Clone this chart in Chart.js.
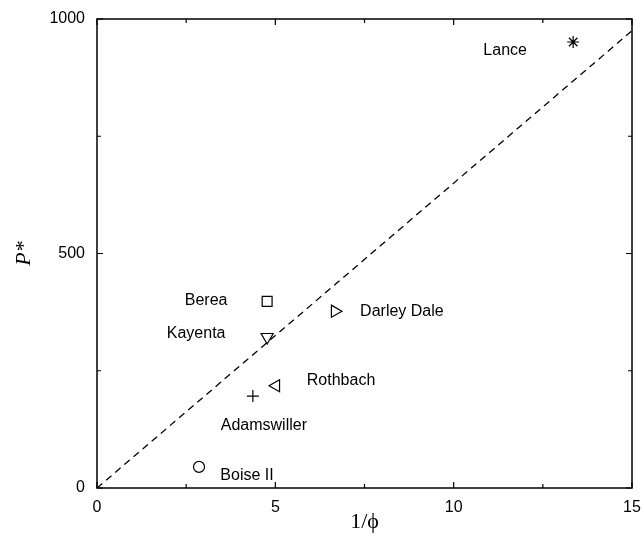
<!DOCTYPE html>
<html><head><meta charset="utf-8">
<script src="https://cdn.jsdelivr.net/npm/chart.js@4/dist/chart.umd.min.js"></script>
<style>html,body{margin:0;padding:0;background:#fff;} #wrap{width:644px;height:535px;position:relative;}</style>
</head><body><div id="wrap"><canvas id="c"></canvas></div>
<script>
const sampleNames = ['Lance','Berea','Darley Dale','Kayenta','Rothbach','Adamswiller','Boise II'];
const invPorosity = [13.35, 4.77, 6.67, 4.77, 5.02, 4.37, 2.86];
const pStar = [951, 398, 377, 322, 218, 196, 45];
const markerStyles = ['star','rect','triangle','triangle','triangle','cross','circle'];
const markerRotations = [0, 0, 90, 180, 270, 0, 0];
const fitX = [0, 15];
const fitY = [0, 975];
const xMajorTicks = [0, 5, 10, 15];
const yMajorTicks = [0, 500, 1000];
const xMinorTicks = [2.5, 7.5, 12.5];
const yMinorTicks = [250, 750];

// label placement (pixel offsets from each marker), by sample
const labelOffsets = {
  'Lance': [-68, 9], 'Berea': [-61, -1], 'Darley Dale': [67, 0], 'Kayenta': [-71, -3],
  'Rothbach': [65, -5], 'Adamswiller': [11, 30], 'Boise II': [48, 9]
};

const framePlugin = {
  id: 'frame',
  afterDatasetsDraw(chart) {
    const {ctx, chartArea: a, scales: {x, y}} = chart;
    ctx.save();
    ctx.strokeStyle = '#000';
    ctx.lineWidth = 1.5;
    ctx.strokeRect(a.left, a.top, a.right - a.left, a.bottom - a.top);
    ctx.lineWidth = 1.2;
    const tk = (v, len, isX) => {
      ctx.beginPath();
      if (isX) {
        const px = x.getPixelForValue(v);
        ctx.moveTo(px, a.bottom); ctx.lineTo(px, a.bottom - len);
        ctx.moveTo(px, a.top); ctx.lineTo(px, a.top + len);
      } else {
        const py = y.getPixelForValue(v);
        ctx.moveTo(a.left, py); ctx.lineTo(a.left + len, py);
        ctx.moveTo(a.right, py); ctx.lineTo(a.right - len, py);
      }
      ctx.stroke();
    };
    xMajorTicks.forEach(v => tk(v, 6, true));
    xMinorTicks.forEach(v => tk(v, 4, true));
    yMajorTicks.forEach(v => tk(v, 6, false));
    yMinorTicks.forEach(v => tk(v, 4, false));
    // sample labels
    ctx.fillStyle = '#000';
    ctx.font = '16px "Liberation Sans", Arial, sans-serif';
    ctx.textAlign = 'center';
    ctx.textBaseline = 'middle';
    sampleNames.forEach((n, i) => {
      const px = x.getPixelForValue(invPorosity[i]);
      const py = y.getPixelForValue(pStar[i]);
      const o = labelOffsets[n];
      ctx.fillText(n, px + o[0], py + o[1]);
    });
    ctx.restore();
  }
};

const chart = new Chart(document.getElementById('c'), {
  type: 'scatter',
  data: {
    datasets: [
      {
        label: 'samples',
        data: invPorosity.map((v, i) => ({x: v, y: pStar[i]})),
        pointStyle: markerStyles,
        rotation: markerRotations,
        pointRadius: [6, 7, 7, 7, 7, 6, 5.5],
        pointHoverRadius: [6, 7, 7, 7, 7, 6, 5.5],
        borderColor: '#000',
        backgroundColor: 'rgba(0,0,0,0)',
        pointBorderWidth: 1.2,
        order: 1
      },
      {
        type: 'line',
        label: 'fit',
        data: fitX.map((v, i) => ({x: v, y: fitY[i]})),
        borderColor: '#000',
        borderWidth: 1.3,
        borderDash: [7, 5],
        pointRadius: 0,
        fill: false,
        order: 2
      }
    ]
  },
  options: {
    responsive: true,
    maintainAspectRatio: false,
    animation: false,
    layout: {padding: {left: 0, right: 12, top: 19, bottom: 0}},
    plugins: {legend: {display: false}, tooltip: {enabled: false}},
    scales: {
      x: {
        type: 'linear', min: 0, max: 15,
        grid: {display: false, drawTicks: false},
        border: {display: false},
        ticks: {stepSize: 5, padding: 10, color: '#000', maxRotation: 0,
          callback: v => String(v),
          font: {family: '"Liberation Sans", Arial, sans-serif', size: 16}},
        title: {display: true, text: '1/ϕ', color: '#000', padding: {top: 0, bottom: 0},
          font: {family: '"Liberation Serif", "Times New Roman", serif', size: 22}},
        afterFit(s) { s.height = 47; s.paddingLeft = 0; s.paddingRight = 0; }
      },
      y: {
        type: 'linear', min: 0, max: 1000,
        grid: {display: false, drawTicks: false},
        border: {display: false},
        ticks: {stepSize: 500, padding: 12, color: '#000',
          callback: v => String(v),
          font: {family: '"Liberation Sans", Arial, sans-serif', size: 16}},
        title: {display: true, text: 'P*', color: '#000', padding: {top: 11, bottom: 0},
          font: {family: '"Liberation Serif", "Times New Roman", serif', size: 22, style: 'italic'}},
        afterFit(s) { s.width = 97; s.paddingTop = 0; s.paddingBottom = 0; }
      }
    }
  },
  plugins: [framePlugin]
});
</script>
</body></html>
